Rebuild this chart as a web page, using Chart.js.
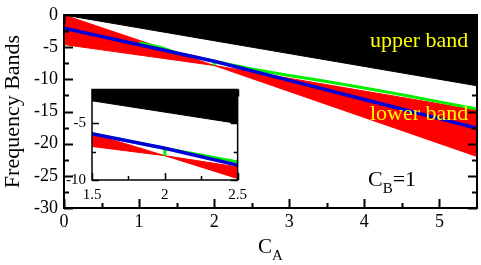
<!DOCTYPE html>
<html>
<head>
<meta charset="utf-8">
<script src="https://cdn.jsdelivr.net/npm/chart.js@4.4.1/dist/chart.umd.min.js"></script>
<style>
  html, body { margin: 0; padding: 0; background: #fff; }
  #wrap { position: relative; width: 481px; height: 265px; overflow: hidden; }
  #main { position: absolute; left: 0; top: 0; }
  #inset { position: absolute; left: 50px; top: 76px; }
  .lbl { position: absolute; font-family: 'Liberation Serif', 'Times New Roman', serif; white-space: nowrap; line-height: 1; }
  .band { color: #ffff00; font-size: 22px; left: 370px; }
  .sub { position: relative; }
</style>
</head>
<body>
<div id="wrap">
  <canvas id="main" width="481" height="265"></canvas>
  <canvas id="inset" width="205" height="134"></canvas>
  <div class="lbl band" style="top:29px">upper band</div>
  <div class="lbl band" style="top:102px">lower band</div>
  <div class="lbl" style="left:368px;top:168px;font-size:22px">C<span class="sub" style="font-size:15px;top:7px">B</span>=1</div>
  <div class="lbl" style="left:258px;top:236px;font-size:21px">C<span class="sub" style="font-size:15px;top:7px">A</span></div>
</div>
<script>
// upper band: filled from this edge up to the top of the plot
const upperEdgeX = [0, 5.5];
const upperEdgeY = [0, -11];

// lower band: area between two crossing edges
const lowerEdgeAX = [0, 2, 5.5];
const lowerEdgeAY = [0, -7.85, -22];
const lowerEdgeBX = [0, 2, 5.5];
const lowerEdgeBY = [-4.6, -7.85, -14.8];

const blueX = [0, 1, 2, 3, 4, 5, 5.5];
const blueY = [-2.07, -4.63, -7.2, -10.17, -13.14, -16.11, -17.6];

const greenX = [1.0, 1.3, 1.5, 2.0, 2.0, 2.0, 2.5, 3.0, 3.5, 4.0, 4.5, 5.0, 5.5];
const greenY = [-4.3, -5.1, -5.91, -7.2, -7.85, -7.2, -8.4, -9.4, -10.35, -11.35, -12.4, -13.5, -14.6];

const mainXTicks = [0, 1, 2, 3, 4, 5];
const mainXLabels = ['0', '1', '2', '3', '4', '5'];
const mainXMinor = [0.5, 1.5, 2.5, 3.5, 4.5];
const mainYTicks = [0, -5, -10, -15, -20, -25, -30];
const mainYLabels = ['0', '-5', '-10', '-15', '-20', '-25', '-30'];
const mainYMinor = [-2.5, -7.5, -12.5, -17.5, -22.5, -27.5];

const insetXTicks = [1.5, 2, 2.5];
const insetXLabels = ['1.5', '2', '2.5'];
const insetXMinor = [1.75, 2.25];
const insetYTicks = [-5, -10];
const insetYLabels = ['-5', '-10'];
const insetYMinor = [-2.5, -7.5];

const FONT = "'Liberation Serif', 'Times New Roman', serif";

function pts(xs, ys) {
  return xs.map((x, i) => ({ x: x, y: ys[i] }));
}

function makeDatasets() {
  const common = { pointRadius: 0, tension: 0, clip: 0 };
  return [
    Object.assign({ data: pts(upperEdgeX, upperEdgeY), borderColor: '#000', borderWidth: 1,
      backgroundColor: '#000', fill: 'end', order: 5 }, common),
    Object.assign({ data: pts(lowerEdgeAX, lowerEdgeAY), borderColor: '#ff0000', borderWidth: 1,
      backgroundColor: '#ff0000', fill: '+1', order: 4 }, common),
    Object.assign({ data: pts(lowerEdgeBX, lowerEdgeBY), borderColor: '#ff0000', borderWidth: 1,
      fill: false, order: 4 }, common),
    Object.assign({ data: pts(greenX, greenY), borderColor: '#00ee00', borderWidth: 3,
      fill: false, order: 2 }, common),
    Object.assign({ data: pts(blueX, blueY), borderColor: '#0000d8', borderWidth: 3.5,
      fill: false, order: 1 }, common)
  ];
}

// inward tick marks on all four sides plus the frame
const frameTicks = {
  id: 'frameTicks',
  beforeDatasetsDraw(chart, args, opts) {
    if (!opts.background) return;
    const a = chart.chartArea;
    chart.ctx.save();
    chart.ctx.fillStyle = opts.background;
    chart.ctx.fillRect(a.left, a.top, a.right - a.left, a.bottom - a.top);
    chart.ctx.restore();
  },
  afterDatasetsDraw(chart, args, opts) {
    const { ctx, chartArea: a } = chart;
    const x = chart.scales.x, y = chart.scales.y;
    ctx.save();
    ctx.strokeStyle = '#000';
    ctx.lineWidth = opts.lineWidth;
    ctx.beginPath();
    const vmarks = (vals, len) => vals.forEach(v => {
      const px = Math.round(x.getPixelForValue(v)) + 0.5;
      ctx.moveTo(px, a.bottom); ctx.lineTo(px, a.bottom - len);
      ctx.moveTo(px, a.top); ctx.lineTo(px, a.top + len);
    });
    const hmarks = (vals, len) => vals.forEach(v => {
      const py = Math.round(y.getPixelForValue(v)) + 0.5;
      ctx.moveTo(a.left, py); ctx.lineTo(a.left + len, py);
      ctx.moveTo(a.right, py); ctx.lineTo(a.right - len, py);
    });
    vmarks(opts.xMajor, opts.major);
    vmarks(opts.xMinor, opts.minor);
    hmarks(opts.yMajor, opts.major);
    hmarks(opts.yMinor, opts.minor);
    ctx.stroke();
    ctx.strokeRect(a.left, a.top, a.right - a.left, a.bottom - a.top);
    ctx.restore();
  }
};

function axis(min, max, values, labels, fontSize, pad, fit, title) {
  return {
    type: 'linear',
    min: min,
    max: max,
    grid: { display: false, drawTicks: false },
    border: { display: false },
    afterBuildTicks: s => { s.ticks = values.map(v => ({ value: v })); },
    afterFit: fit,
    ticks: {
      color: '#000',
      padding: pad,
      autoSkip: false,
      maxRotation: 0,
      font: { family: FONT, size: fontSize, lineHeight: 1 },
      callback: v => labels[values.indexOf(v)]
    },
    title: title || { display: false }
  };
}

new Chart(document.getElementById('main'), {
  type: 'line',
  data: { datasets: makeDatasets() },
  options: {
    responsive: false,
    animation: false,
    events: [],
    layout: { padding: { top: 9, right: 4, left: 0, bottom: 0 } },
    plugins: {
      legend: { display: false },
      tooltip: { enabled: false },
      frameTicks: {
        lineWidth: 2, major: 9, minor: 5,
        xMajor: mainXTicks, xMinor: mainXMinor, yMajor: mainYTicks, yMinor: mainYMinor
      }
    },
    scales: {
      x: axis(0, 5.5, mainXTicks, mainXLabels, 18, 5, s => { s.height = 57; }),
      y: axis(-30, 0, mainYTicks, mainYLabels, 18, 6, s => { s.width = 64; }, {
        display: true,
        text: 'Frequency Bands',
        color: '#000',
        padding: { top: 0, bottom: 0 },
        font: { family: FONT, size: 22 }
      })
    }
  },
  plugins: [frameTicks]
});

new Chart(document.getElementById('inset'), {
  type: 'line',
  data: { datasets: makeDatasets() },
  options: {
    responsive: false,
    animation: false,
    events: [],
    layout: { padding: { top: 10, right: 14, left: 0, bottom: 0 } },
    plugins: {
      legend: { display: false },
      tooltip: { enabled: false },
      frameTicks: {
        background: '#fff', lineWidth: 1.5, major: 7, minor: 4,
        xMajor: insetXTicks, xMinor: insetXMinor, yMajor: insetYTicks, yMinor: insetYMinor
      }
    },
    scales: {
      x: axis(1.5, 2.5, insetXTicks, insetXLabels, 15, 8, s => { s.height = 30; }),
      y: axis(-10, -2, insetYTicks, insetYLabels, 15, 6, s => { s.width = 42; })
    }
  },
  plugins: [frameTicks]
});
</script>
</body>
</html>
